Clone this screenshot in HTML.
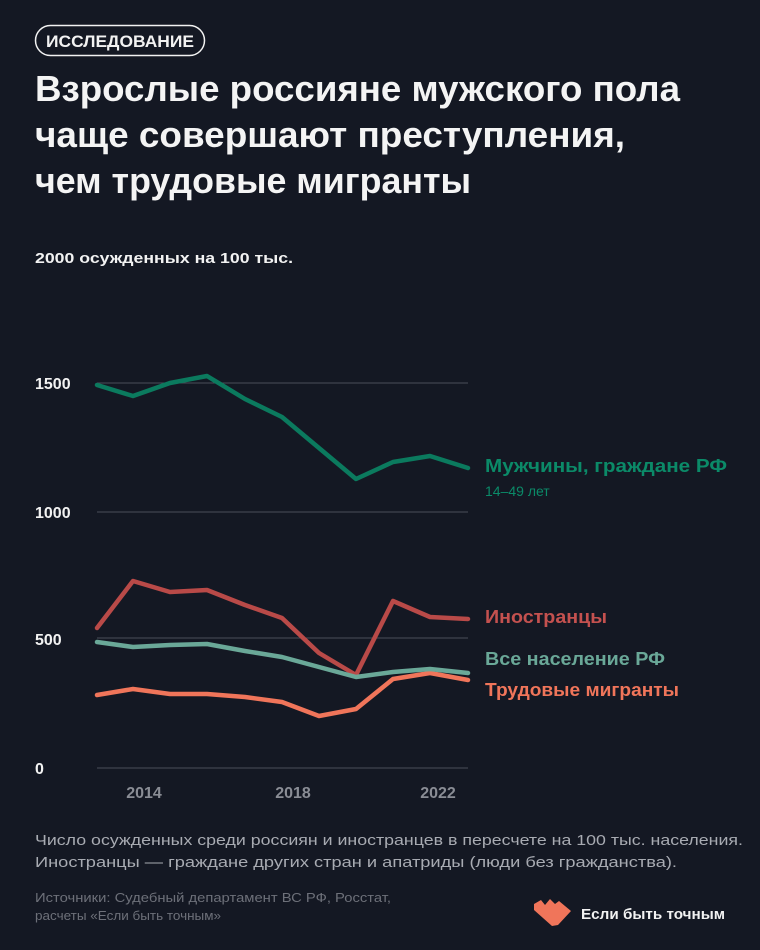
<!DOCTYPE html>
<html><head><meta charset="utf-8"><style>
html,body{margin:0;padding:0;background:#141823;}
svg{display:block;font-family:"Liberation Sans",sans-serif;}
</style></head><body>
<svg width="760" height="950" viewBox="0 0 760 950" xmlns="http://www.w3.org/2000/svg">
<rect width="760" height="950" fill="#141823"/>
<rect x="35.5" y="25.5" width="169" height="30" rx="15" fill="none" stroke="#f2f2f2" stroke-width="1.5"/>
<text x="46" y="47" font-size="17" font-weight="bold" fill="#f2f2f2" textLength="148" lengthAdjust="spacingAndGlyphs">ИССЛЕДОВАНИЕ</text>
<g font-size="36" font-weight="bold" fill="#f4f4f4">
<text x="35" y="101" textLength="645" lengthAdjust="spacingAndGlyphs">Взрослые россияне мужского пола</text>
<text x="35" y="147" textLength="590" lengthAdjust="spacingAndGlyphs">чаще совершают преступления,</text>
<text x="35" y="193" textLength="436" lengthAdjust="spacingAndGlyphs">чем трудовые мигранты</text>
</g>
<text x="35" y="263" font-size="15" font-weight="bold" fill="#f2f2f2" textLength="258" lengthAdjust="spacingAndGlyphs">2000 осужденных на 100 тыс.</text>
<g stroke="#4a4e58" stroke-width="1">
<line x1="97" y1="383" x2="468" y2="383"/>
<line x1="97" y1="512" x2="468" y2="512"/>
<line x1="97" y1="638" x2="468" y2="638"/>
<line x1="97" y1="768" x2="468" y2="768"/>
</g>
<g font-size="16" font-weight="bold" fill="#f2f2f2">
<text x="35" y="389">1500</text>
<text x="35" y="518">1000</text>
<text x="35" y="645">500</text>
<text x="35" y="774">0</text>
</g>
<g font-size="16" font-weight="bold" fill="#8a8d95" text-anchor="middle">
<text x="144" y="798">2014</text>
<text x="293" y="798">2018</text>
<text x="438" y="798">2022</text>
</g>
<g fill="none" stroke-width="4.5" stroke-linejoin="round" stroke-linecap="round">
<polyline stroke="#0b7a5e" points="97,385 133,396 170,383 207,376 245,399 282,417 319,448 356,479 393,462 430,456 468,468"/>
<polyline stroke="#f0755a" points="97,695 133,689 170,694 207,694 245,697 282,702 319,716 356,709 393,679 430,673 468,680"/>
<polyline stroke="#b94a48" points="97,628 133,581 170,592 207,590 245,605 282,618 319,653 356,675 393,601 430,617 468,619"/>
<polyline stroke="#6aa898" points="97,642 133,647 170,645 207,644 245,651 282,657 319,667 356,677 393,672 430,669 468,673"/>
</g>
<text x="485" y="472" font-size="18" font-weight="bold" fill="#0b8a68" textLength="242" lengthAdjust="spacingAndGlyphs">Мужчины, граждане РФ</text>
<text x="485" y="496" font-size="14" fill="#0b8a68">14–49 лет</text>
<text x="485" y="623" font-size="18" font-weight="bold" fill="#c4514f" textLength="122" lengthAdjust="spacingAndGlyphs">Иностранцы</text>
<text x="485" y="665" font-size="18" font-weight="bold" fill="#6aa898" textLength="180" lengthAdjust="spacingAndGlyphs">Все население РФ</text>
<text x="485" y="696" font-size="18" font-weight="bold" fill="#f0755a" textLength="194" lengthAdjust="spacingAndGlyphs">Трудовые мигранты</text>
<g font-size="15" fill="#a8abb2">
<text x="35" y="845" textLength="708" lengthAdjust="spacingAndGlyphs">Число осужденных среди россиян и иностранцев в пересчете на 100 тыс. населения.</text>
<text x="35" y="867" textLength="642" lengthAdjust="spacingAndGlyphs">Иностранцы — граждане других стран и апатриды (люди без гражданства).</text>
</g>
<g font-size="13" fill="#6d7079">
<text x="35" y="902" textLength="356" lengthAdjust="spacingAndGlyphs">Источники: Судебный департамент ВС РФ, Росстат,</text>
<text x="35" y="920" textLength="186" lengthAdjust="spacingAndGlyphs">расчеты «Если быть точным»</text>
</g>
<polygon fill="#f0755a" points="534,904 541,900 545,905 550,899 555,904 559,901 571,911 558,925 552,926 534,910"/>
<text x="581" y="919" font-size="15" font-weight="bold" fill="#f2f2f2" textLength="144" lengthAdjust="spacingAndGlyphs">Если быть точным</text>
</svg>
</body></html>
